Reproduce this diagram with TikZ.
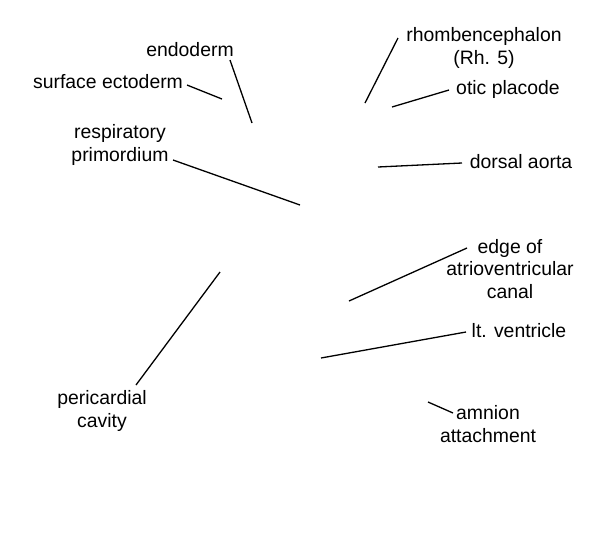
\documentclass[tikz,border=0pt]{standalone}
\usepackage{fontspec}
\setmainfont{Liberation Sans}
\usepackage{tikz}

\begin{document}
\begin{tikzpicture}[x=1pt,y=-1pt]
            \tikzset{line/.style={line width=1.3pt}};
            \tikzset{lbl/.style={align=center,inner sep=3pt,font=\fontsize{19.4}{22.5}\selectfont}};
            \useasboundingbox (0,0) rectangle (600,550);

            % labels on the left
            \node[lbl] (endo) at (190,50) {endoderm};
            \node[lbl] (ecto) at (108,82) {surface ectoderm};
            \node[lbl] (resp) at (120,145) {respiratory\\primordium};
            \node[lbl] (peri) at (102,411) {pericardial\\cavity};

            % labels on the right
            \node[lbl] (rhomb) at (484,48) {rhombencephalon\\(Rh. 5)};
            \node[lbl] (otic) at (508,89) {otic placode};
            \node[lbl] (aorta) at (521,162) {dorsal aorta};
            \node[lbl] (canal) at (510,269) {edge of\\atrioventricular\\canal};
            \node[lbl] (vent) at (519,331) {lt. ventricle};
            \node[lbl] (amnion) at (488,424) {amnion\\attachment};

            % line ends
            \coordinate (endoT) at (252,123);
            \coordinate (ectoT) at (222,99);
            \coordinate (respT) at (300,205);
            \coordinate (periT) at (220,272);
            \coordinate (rhombT) at (365,103);
            \coordinate (oticT) at (392,107);
            \coordinate (aortaT) at (378,167);
            \coordinate (canalT) at (349,301);
            \coordinate (ventT) at (321,358);
            \coordinate (amnionT) at (428,402);

            \draw[line] ([shift={(40,10)}]endo.center) -- (endoT);
            \draw[line] ([shift={(79,3)}]ecto.center) -- (ectoT);
            \draw[line] ([shift={(53,15)}]resp.center) -- (respT);
            \draw[line] ([shift={(34,-26)}]peri.center) -- (periT);
            \draw[line] ([shift={(-86,-10)}]rhomb.center) -- (rhombT);
            \draw[line] ([shift={(-59,1)}]otic.center) -- (oticT);
            \draw[line] ([shift={(-59,1)}]aorta.center) -- (aortaT);
            \draw[line] ([shift={(-43,-21)}]canal.center) -- (canalT);
            \draw[line] ([shift={(-53,1)}]vent.center) -- (ventT);
            \draw[line] ([shift={(-35,-11)}]amnion.center) -- (amnionT);
        \end{tikzpicture}
\end{document}
